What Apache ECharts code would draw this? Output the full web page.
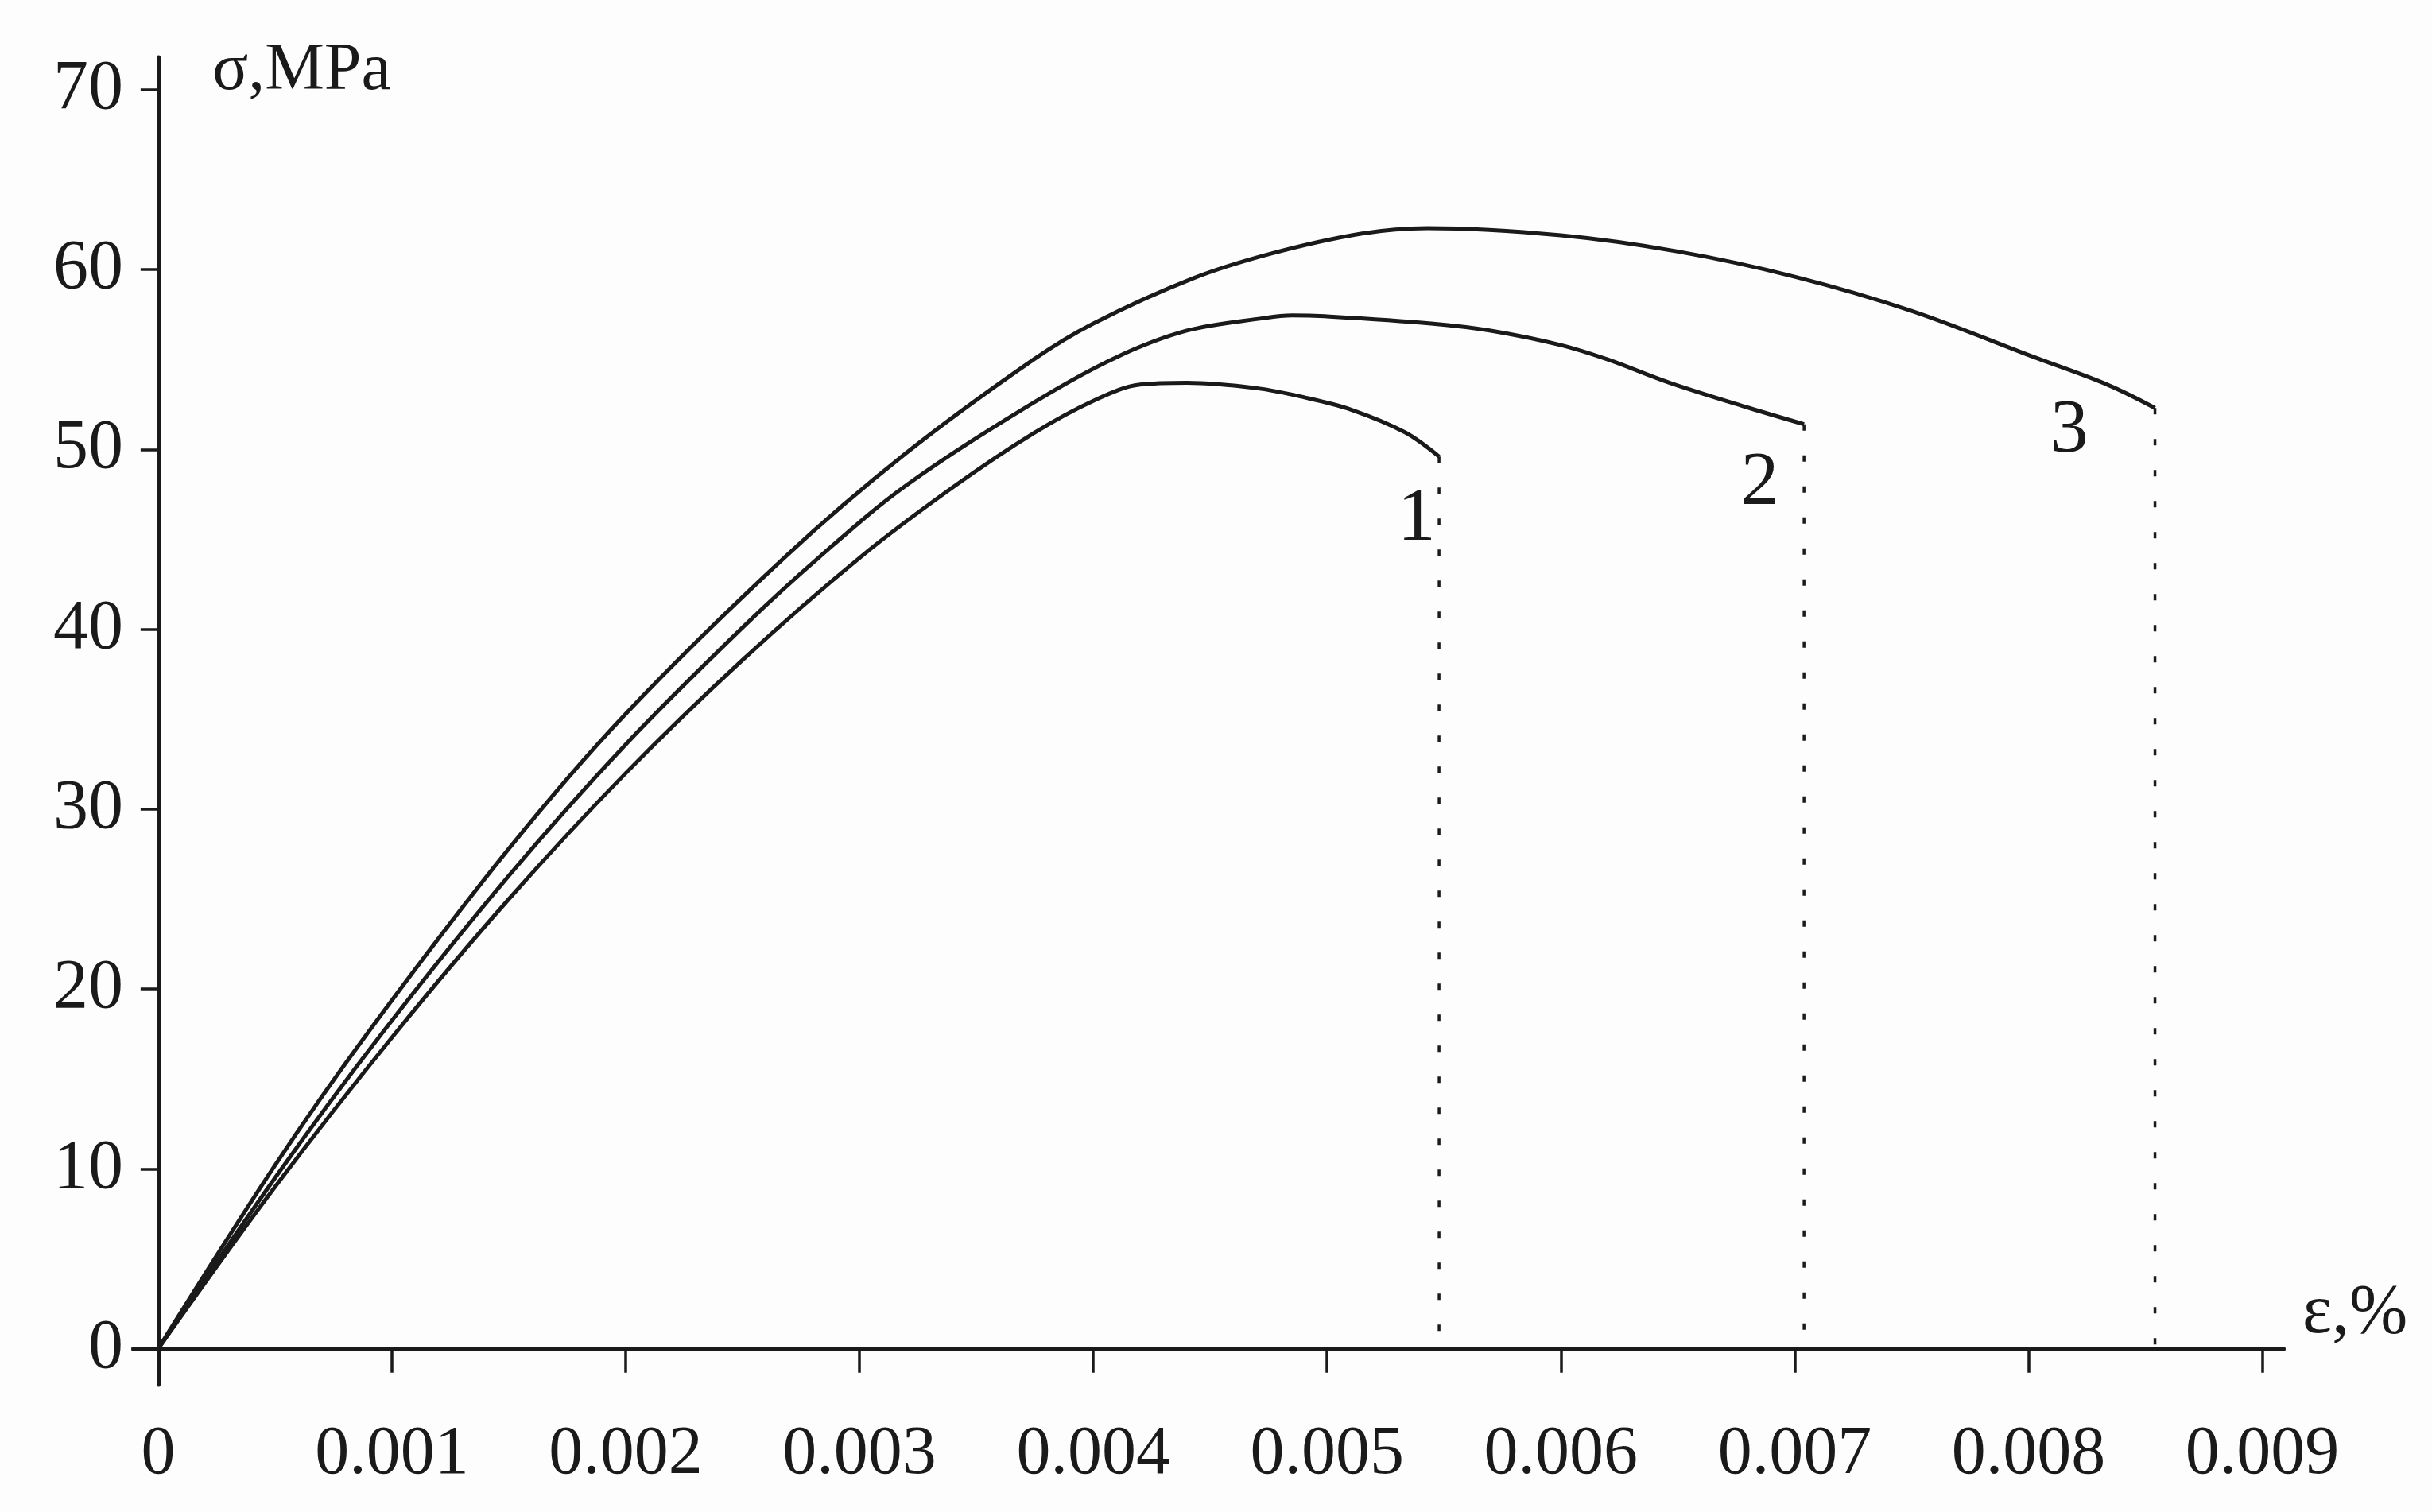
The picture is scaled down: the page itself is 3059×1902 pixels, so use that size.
<!DOCTYPE html>
<html>
<head>
<meta charset="utf-8">
<script src="https://cdn.jsdelivr.net/npm/echarts@6/dist/echarts.min.js"></script>
<style>
  html, body { margin: 0; padding: 0; background: #fdfdfd; }
  #chart { width: 3059px; height: 1902px; }
</style>
</head>
<body>
<div id="chart"></div>
<script>
// ---- data ----
// strain (ε, %) and stress (σ, MPa) for the three curves
const strain1 = [0, 0.0005, 0.001012, 0.0015, 0.002, 0.0025, 0.003003, 0.0034, 0.003745, 0.004, 0.0042, 0.0044, 0.0047, 0.0049, 0.005105, 0.005333, 0.005479];
const stress1 = [0, 9.0, 17.5, 25.0, 32.0, 38.3, 44.0, 47.9, 50.9, 52.7, 53.6, 53.7, 53.4, 52.9, 52.2, 50.95, 49.6];

const strain2 = [0, 0.0005, 0.000955, 0.0015, 0.002, 0.0025, 0.002827, 0.0032, 0.003745, 0.004095, 0.0044, 0.00473, 0.00485, 0.00499, 0.005445, 0.0057, 0.006, 0.0062, 0.006466, 0.006806, 0.00704];
const stress2 = [0, 9.5, 17.5, 26.3, 33.6, 40.1, 44.0, 48.0, 52.6, 55.1, 56.6, 57.3, 57.45, 57.4, 57.0, 56.6, 55.8, 55.0, 53.7, 52.3, 51.4];

const strain3 = [0, 0.0005, 0.000893, 0.0015, 0.002, 0.00268, 0.0032, 0.003745, 0.004, 0.004425, 0.004765, 0.00515, 0.00543, 0.006, 0.0065, 0.007, 0.0075, 0.00803, 0.008337, 0.008541];
const stress3 = [0, 10.2, 17.5, 27.8, 35.3, 44.0, 49.8, 55.0, 57.0, 59.5, 60.9, 62.0, 62.3, 61.9, 61.0, 59.6, 57.7, 55.1, 53.6, 52.3];

// curve numbers and where they are written
const curveNames = ['1', '2', '3'];
const curveLabelX = [0.005383, 0.006851, 0.008174];
const curveLabelY = [46.1, 48.1, 51.0];

// tick values
const xTicks = [0, 0.001, 0.002, 0.003, 0.004, 0.005, 0.006, 0.007, 0.008, 0.009];
const yTicks = [0, 10, 20, 30, 40, 50, 60, 70];

const xAxisName = 'ε,%';
const yAxisName = 'σ,MPa';

// ---- build chart ----
const INK = '#1a1a1a';
const FONT = '"Liberation Serif", "Times New Roman", serif';

function pairs(xs, ys) { return xs.map((x, i) => [x, ys[i]]); }
function dropLine(xs, ys) {
  const n = xs.length - 1;
  return [[xs[n], ys[n]], [xs[n], 0]];
}

const curves = [[strain1, stress1], [strain2, stress2], [strain3, stress3]];

const series = [];
curves.forEach(([xs, ys], i) => {
  series.push({
    name: 'curve ' + curveNames[i],
    type: 'line',
    data: pairs(xs, ys),
    showSymbol: false,
    smooth: 0.35,
    lineStyle: { color: INK, width: 5 },
    z: 3
  });
  series.push({
    name: 'break ' + curveNames[i],
    type: 'line',
    data: dropLine(xs, ys),
    showSymbol: false,
    lineStyle: { color: INK, width: 3.5, type: [8, 31] },
    z: 2
  });
});
series.push({
  name: 'numbers',
  type: 'scatter',
  symbolSize: 0,
  itemStyle: { opacity: 1 },
  data: curveNames.map((n, i) => ({ value: [curveLabelX[i], curveLabelY[i]], name: n })),
  label: {
    show: true,
    position: 'inside',
    formatter: p => p.name,
    color: INK,
    fontFamily: FONT,
    fontSize: 96
  },
  z: 4
});

const option = {
  backgroundColor: '#fdfdfd',
  animation: false,
  grid: { left: 168, right: 187, top: 72, bottom: 160, containLabel: false },
  xAxis: {
    type: 'value',
    min: -0.000105,
    max: 0.00909,
    name: xAxisName,
    nameLocation: 'end',
    nameGap: 24,
    nameTextStyle: {
      color: INK, fontFamily: FONT, fontSize: 88,
      align: 'left', verticalAlign: 'bottom'
    },
    axisLine: { onZero: true, lineStyle: { color: INK, width: 6 } },
    axisTick: { show: true, inside: false, length: 30, customValues: xTicks, lineStyle: { color: INK, width: 3.5 } },
    axisLabel: {
      customValues: xTicks,
      margin: 45,
      color: INK, fontFamily: FONT, fontSize: 86,
      formatter: v => (v === 0 ? '0' : v.toFixed(3))
    },
    splitLine: { show: false }
  },
  yAxis: {
    type: 'value',
    min: -2,
    max: 71.8,
    name: yAxisName,
    nameLocation: 'end',
    nameGap: -18,
    nameTextStyle: {
      color: INK, fontFamily: FONT, fontSize: 84,
      align: 'left', verticalAlign: 'middle', padding: [0, 0, 0, 68]
    },
    axisLine: { onZero: true, lineStyle: { color: INK, width: 5 } },
    axisTick: { show: true, inside: false, length: 22, customValues: yTicks, lineStyle: { color: INK, width: 3.5 } },
    axisLabel: {
      customValues: yTicks,
      margin: 13,
      color: INK, fontFamily: FONT, fontSize: 88,
      padding: [16, 0, 0, 0]
    },
    splitLine: { show: false }
  },
  series: series
};

const chart = echarts.init(document.getElementById('chart'), null, { renderer: 'canvas' });
chart.setOption(option);
</script>
</body>
</html>
